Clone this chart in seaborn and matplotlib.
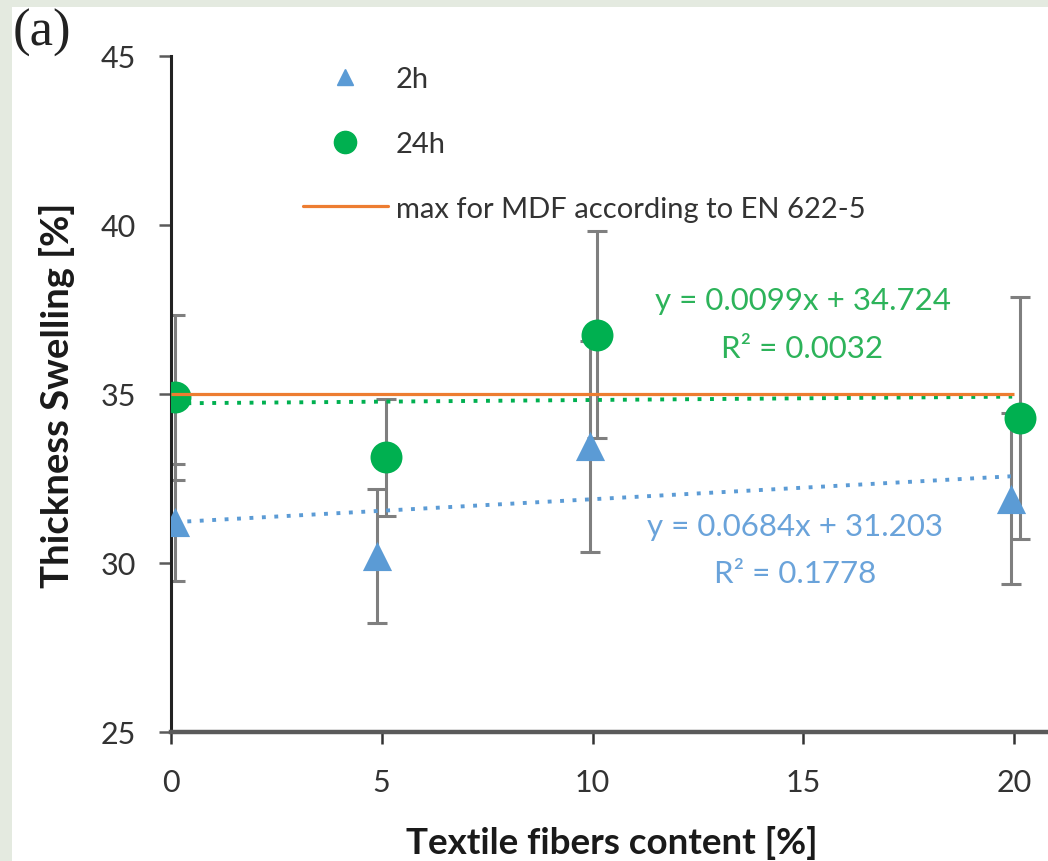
import numpy as np
import pandas as pd
import matplotlib
matplotlib.use("Agg")
import matplotlib.pyplot as plt
from matplotlib.lines import Line2D
from matplotlib.patches import Rectangle
import seaborn as sns

# Thickness swelling of MDF boards vs. textile fibre content
x_2h = [0.1, 4.9, 9.93, 19.92]
y_2h = [31.2, 30.2, 33.45, 31.9]
err_2h = [1.73, 1.98, 3.12, 2.53]

x_24h = [0.1, 5.11, 10.1, 20.14]
y_24h = [34.9, 33.13, 36.75, 34.3]
err_24h = [2.45, 1.73, 3.06, 3.58]

# Linear trendlines (slope, intercept, R²)
fit_2h = (0.0684, 31.203, 0.1778)
fit_24h = (0.0099, 34.724, 0.0032)

# EN 622-5 limit for MDF
limit_value = 35
limit_range = [0, 20]

x_ticks = [0, 5, 10, 15, 20]
y_ticks = [25, 30, 35, 40, 45]

BLUE = "#5B9BD5"
GREEN = "#00B050"
ORANGE = "#ED7D31"
GREY = "#7F7F7F"

sns.set_theme(style="white")
plt.rcParams["font.family"] = ["Lato", "DejaVu Sans"]

W, H = 1048, 862
fig = plt.figure(figsize=(W / 100, H / 100), dpi=100, facecolor="#E4EAE0")
fig.patches.append(Rectangle((12 / W, 0), 1 - 12 / W, 1 - 8 / H,
                             transform=fig.transFigure, facecolor="white",
                             edgecolor="none", zorder=-10))

ax_l, ax_r = 170.7 / W, 1.0
ax_b, ax_t = (H - 733) / H, (H - 57) / H
ax = fig.add_axes([ax_l, ax_b, ax_r - ax_l, ax_t - ax_b])
ax.set_facecolor("none")

df2 = pd.DataFrame({"fiber": x_2h, "swelling": y_2h, "time": "2h"})
df24 = pd.DataFrame({"fiber": x_24h, "swelling": y_24h, "time": "24h"})

# error bars below the markers
ax.errorbar(x_2h, y_2h, yerr=err_2h, fmt="none", ecolor=GREY, elinewidth=2.2,
            capsize=7.2, capthick=2.2, zorder=2)
ax.errorbar(x_24h, y_24h, yerr=err_24h, fmt="none", ecolor=GREY, elinewidth=2.2,
            capsize=7.2, capthick=2.2, zorder=2)

sns.scatterplot(data=df2, x="fiber", y="swelling", color=BLUE, marker="^",
                s=21 ** 2, linewidth=0, ax=ax, zorder=3, legend=False)
sns.scatterplot(data=df24, x="fiber", y="swelling", color=GREEN, marker="o",
                s=23 ** 2, linewidth=0, ax=ax, zorder=3, legend=False)

# limit line and trendlines
ax.plot(limit_range, [limit_value, limit_value], color=ORANGE, lw=2.3,
        solid_capstyle="butt", zorder=5)
for xs, (m, b, _), col in ((x_2h, fit_2h, BLUE), (x_24h, fit_24h, GREEN)):
    tx = np.array([min(xs), min(max(xs), 19.95)])
    ax.plot(tx, m * tx + b, color=col, lw=2.8, linestyle=(0, (1.0, 2.2)),
            dash_capstyle="butt", zorder=4)

# trendline equations
eq_kw = dict(ha="center", va="baseline", fontsize=22.5, zorder=6)
ax.text(14.98, 37.5, f"y = {fit_24h[0]:.4f}x + {fit_24h[1]:.3f}", color="#2DB35A", **eq_kw)
ax.text(14.98, 36.1, f"R² = {fit_24h[2]:.4f}", color="#2DB35A", **eq_kw)
ax.text(14.79, 30.82, f"y = {fit_2h[0]:.4f}x + {fit_2h[1]:.3f}", color="#6AA3DA", **eq_kw)
ax.text(14.81, 29.43, f"R² = {fit_2h[2]:.4f}", color="#6AA3DA", **eq_kw)

ax.set_xlim(0, (W - 170.7) / 42.18)
ax.set_ylim(25, 45)
ax.set_xticks(x_ticks)
ax.set_yticks(y_ticks)
ax.set_xticklabels([str(v) for v in x_ticks])
ax.set_yticklabels([str(v) for v in y_ticks])

for s in ("top", "right"):
    ax.spines[s].set_visible(False)
ax.spines["left"].set_color("#222222")
ax.spines["left"].set_linewidth(2.2)
ax.spines["bottom"].set_color("#5A5A5A")
ax.spines["bottom"].set_linewidth(3.2)
ax.tick_params(axis="y", direction="out", length=8.6, width=1.8, color="#5A5A5A",
               pad=16.5, labelsize=22, labelcolor="#333333", left=True)
ax.tick_params(axis="x", direction="out", length=8.6, width=1.8, color="#333333",
               pad=17, labelsize=22, labelcolor="#333333", bottom=True)

ax.set_xlabel("Textile fibers content [%]", fontsize=26.5, fontweight="bold",
              color="#1A1A1A")
ax.set_ylabel("Thickness Swelling [%]", fontsize=27.5, fontweight="bold",
              color="#1A1A1A")
ax.xaxis.set_label_coords(0.503, -0.137)
ax.yaxis.set_label_coords(-0.109, 0.5)

handles = [
    Line2D([], [], color=BLUE, marker="^", linestyle="none", markersize=11.5),
    Line2D([], [], color=GREEN, marker="o", linestyle="none", markersize=16),
    Line2D([], [], color=ORANGE, lw=2.3),
]
labels = ["2h", "24h", "max for MDF according to EN 622-5"]
ax.legend(handles, labels, loc="upper left", bbox_to_anchor=(303 / W, 1 - 67 / H),
          bbox_transform=fig.transFigure, frameon=False, fontsize=21,
          handlelength=2.91, handletextpad=0.28, labelspacing=1.33,
          borderpad=0, borderaxespad=0, labelcolor="#333333")

fig.text(13 / W, 1 - 9 / H, "(a)", fontsize=38, family="Liberation Serif",
         ha="left", va="top", color="#222222")

fig.savefig("out.png", dpi=100, facecolor=fig.get_facecolor())
